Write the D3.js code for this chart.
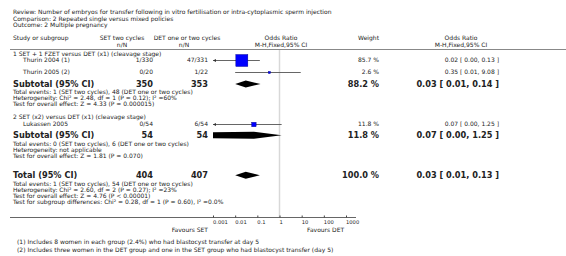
<!DOCTYPE html>
<html>
<head>
<meta charset="utf-8">
<script src="https://cdn.jsdelivr.net/npm/d3@7/dist/d3.min.js"></script>
<style>
  body { margin: 0; background: #fff; }
  svg { font-family: "DejaVu Sans", Verdana, sans-serif; }
</style>
</head>
<body>
<div id="forest"></div>
<script>
// forest plot data
var titleLines = [
  "Review:  Number of embryos for transfer following in vitro fertilisation or intra-cytoplasmic sperm injection",
  "Comparison:  2 Repeated single versus mixed policies",
  "Outcome:  2 Multiple pregnancy"
];
var groupNames = ["1 SET + 1 FZET versus DET (x1) (cleavage stage)", "2 SET (x2) versus DET (x1) (cleavage stage)"];

// individual studies
var studyNames = ["Thurin 2004 (1)", "Thurin 2005 (2)", "Lukassen 2005"];
var studySet = ["1/330", "0/20", "0/54"];
var studyDet = ["47/331", "1/22", "6/54"];
var studyOR = [0.02, 0.35, 0.07];
var studyLo = [0.00, 0.01, 0.00];
var studyHi = [0.13, 9.08, 1.25];
var studyWeight = [85.7, 2.6, 11.8];
var studyLabel = ["0.02 [ 0.00, 0.13 ]", "0.35 [ 0.01, 9.08 ]", "0.07 [ 0.00, 1.25 ]"];

// subtotals
var subSet = [350, 54];
var subDet = [353, 54];
var subOR = [0.03, 0.07];
var subLo = [0.01, 0.00];
var subHi = [0.14, 1.25];
var subWeight = ["88.2 %", "11.8 %"];
var subLabel = ["0.03 [ 0.01, 0.14 ]", "0.07 [ 0.00, 1.25 ]"];
var subNotes = [
  ["Total events: 1 (SET two cycles), 48 (DET one or two cycles)",
   "Heterogeneity: Chi\u00b2 = 2.48, df = 1 (P = 0.12); I\u00b2 =60%",
   "Test for overall effect: Z = 4.33 (P = 0.000015)"],
  ["Total events: 0 (SET two cycles), 6 (DET one or two cycles)",
   "Heterogeneity: not applicable",
   "Test for overall effect: Z = 1.81 (P = 0.070)"]
];

// overall total
var totSet = 404, totDet = 407;
var totOR = 0.03, totLo = 0.01, totHi = 0.13;
var totWeight = "100.0 %";
var totLabel = "0.03 [ 0.01, 0.13 ]";
var totNotes = [
  "Total events: 1 (SET two cycles), 54 (DET one or two cycles)",
  "Heterogeneity: Chi\u00b2 = 2.60, df = 2 (P = 0.27); I\u00b2 =23%",
  "Test for overall effect: Z = 4.76 (P < 0.00001)",
  "Test for subgroup differences: Chi\u00b2 = 0.28, df = 1 (P = 0.60), I\u00b2 =0.0%"
];

var tickValues = [0.001, 0.01, 0.1, 1, 10, 100, 1000];
var tickLabels = ["0.001", "0.01", "0.1", "1", "10", "100", "1000"];
var favours = ["Favours SET", "Favours DET"];
var footnotes = [
  "(1) Includes 8 women in each group (2.4%) who had blastocyst transfer at day 5",
  "(2) Includes three women in the DET group and one in the SET group who had blastocyst transfer (day 5)"
];

// layout
var svgWidth = 566, svgHeight = 256;
var small = 6.0, big = 8.2;
var txt = "#222";
var colSet = 153, colDet = 208, colWeight = 379, colOR = 499;
var plotTop = 50, plotBottom = 217;

var svg = d3.select("#forest").append("svg")
  .attr("width", svgWidth)
  .attr("height", svgHeight);

// log scale for odds ratio
var x = d3.scaleLog().domain([0.001, 1000]).range([213, 346]);
var xMin = x.range()[0], xMax = x.range()[1];
function px(v) {
  // clip values outside the plot (0.00 goes off to the left)
  if (v <= 0) return xMin;
  return Math.max(xMin, Math.min(xMax, x(v)));
}

function label(t, xx, yy, opts) {
  opts = opts || {};
  return svg.append("text")
    .attr("x", xx).attr("y", yy).attr("dy", "0.35em")
    .attr("text-anchor", opts.anchor || "start")
    .attr("font-size", opts.size || small)
    .attr("font-weight", opts.bold ? "bold" : "normal")
    .attr("fill", opts.fill || txt)
    .text(t);
}

// title block
titleLines.forEach(function(t, i) { label(t, 13, 12 + i * 6.5); });

// column headers
label("Study or subgroup", 13, 38);
label("SET two cycles", 122, 38, {anchor: "middle"});
label("n/N", 122, 44.5, {anchor: "middle"});
label("DET one or two cycles", 187, 38, {anchor: "middle"});
label("n/N", 184, 44.5, {anchor: "middle"});
label("Odds Ratio", 281, 38, {anchor: "middle"});
label("M-H,Fixed,95% CI", 281, 44.5, {anchor: "middle"});
label("Weight", colWeight, 38, {anchor: "end"});
label("Odds Ratio", 461, 38, {anchor: "middle"});
label("M-H,Fixed,95% CI", 461, 44.5, {anchor: "middle"});

svg.append("line")
  .attr("x1", 10).attr("x2", svgWidth).attr("y1", 49.5).attr("y2", 49.5)
  .attr("stroke", "#888").attr("stroke-width", 1);

// line of no effect
svg.append("line")
  .attr("x1", x(1)).attr("x2", x(1)).attr("y1", plotTop).attr("y2", plotBottom)
  .attr("stroke", "#d8d8d8").attr("stroke-width", 1.5);

// vertical positions of rows
var groupY = [54, 117];
var studyY = [60, 72, 124];
var subY = [84, 135.3];
var subNoteY = [92, 143.5];
var totY = 175.3, totNoteY = 183.5;

function diamond(cx, lo, hi, cy, h) {
  var l = px(lo), r = px(hi), c = px(cx);
  var pts;
  if (lo <= 0) {
    // lower bound off the plot: flat left end
    pts = [[l, cy - h * 0.85], [c, cy - h], [r, cy], [c, cy + h], [l, cy + h * 0.85]];
  } else {
    pts = [[l, cy], [c, cy - h], [r, cy], [c, cy + h]];
  }
  svg.append("polygon")
    .attr("points", pts.map(function(p) { return p.join(","); }).join(" "))
    .attr("fill", "#000");
}

function arrowLeft(xx, yy) {
  svg.append("path")
    .attr("d", "M" + xx + "," + yy + "l3,-1.5v3z")
    .attr("fill", "#333");
}

// group headings + studies
groupNames.forEach(function(g, i) { label(g, 13, groupY[i]); });

studyNames.forEach(function(name, i) {
  var yy = studyY[i];
  label(name, 23, yy);
  label(studySet[i], colSet, yy, {anchor: "end"});
  label(studyDet[i], colDet, yy, {anchor: "end"});
  label(studyWeight[i].toFixed(1) + " %", colWeight, yy, {anchor: "end"});
  label(studyLabel[i], colOR, yy, {anchor: "end"});

  svg.append("line")
    .attr("x1", px(studyLo[i])).attr("x2", px(studyHi[i]))
    .attr("y1", yy + 0.5).attr("y2", yy + 0.5)
    .attr("stroke", "#555").attr("stroke-width", 0.9);
  if (studyLo[i] <= 0 || studyLo[i] < x.domain()[0]) arrowLeft(xMin, yy + 0.5);

  var side = 13 * Math.sqrt(studyWeight[i] / 100);
  svg.append("rect")
    .attr("x", x(studyOR[i]) - side / 2).attr("y", yy + 0.5 - side / 2)
    .attr("width", side).attr("height", side)
    .attr("fill", "#0000ff").attr("stroke", "#000080").attr("stroke-width", 0.4);
});

// subtotals
subOR.forEach(function(v, i) {
  var yy = subY[i];
  label("Subtotal (95% CI)", 13, yy, {bold: true, size: big});
  label(subSet[i], colSet, yy, {anchor: "end", bold: true, size: big});
  label(subDet[i], colDet, yy, {anchor: "end", bold: true, size: big});
  label(subWeight[i], colWeight, yy, {anchor: "end", bold: true, size: big});
  label(subLabel[i], colOR, yy, {anchor: "end", bold: true, size: big});
  diamond(v, subLo[i], subHi[i], yy, 3.5);
  subNotes[i].forEach(function(t, j) { label(t, 13, subNoteY[i] + j * 6); });
});

// overall total
label("Total (95% CI)", 13, totY, {bold: true, size: big});
label(totSet, colSet, totY, {anchor: "end", bold: true, size: big});
label(totDet, colDet, totY, {anchor: "end", bold: true, size: big});
label(totWeight, colWeight, totY, {anchor: "end", bold: true, size: big});
label(totLabel, colOR, totY, {anchor: "end", bold: true, size: big});
diamond(totOR, totLo, totHi, totY, 3.5);
totNotes.forEach(function(t, j) { label(t, 13, totNoteY + j * 6); });

// axis
svg.append("line")
  .attr("x1", 10).attr("x2", 356).attr("y1", plotBottom + 0.5).attr("y2", plotBottom + 0.5)
  .attr("stroke", "#666").attr("stroke-width", 1);

var axis = d3.axisTop(x)
  .tickValues(tickValues)
  .tickFormat(function(d, i) { return ""; })
  .tickSize(2)
  .tickSizeOuter(0);
var axisG = svg.append("g")
  .attr("transform", "translate(0," + (plotBottom + 0.5) + ")")
  .call(axis);
axisG.select(".domain").remove();
axisG.selectAll(".tick line").attr("stroke", "#444");

// tick labels start at the tick, as in the original
tickValues.forEach(function(v, i) {
  label(tickLabels[i], x(v), 222.5, {size: 5.2});
});

label(favours[0], 208, 230, {anchor: "end"});
label(favours[1], 307, 230);

footnotes.forEach(function(t, i) { label(t, 17, 242 + i * 7.5); });
</script>
</body>
</html>
